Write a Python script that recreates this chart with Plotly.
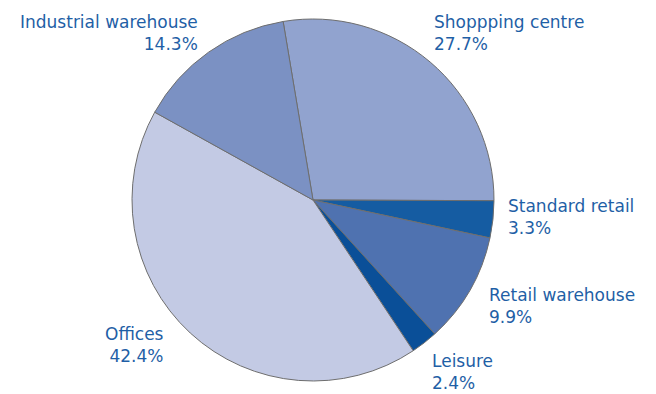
import plotly.graph_objects as go

labels = ["Shoppping centre", "Standard retail", "Retail warehouse", "Leisure", "Offices", "Industrial warehouse"]
values = [27.7, 3.3, 9.9, 2.4, 42.4, 14.3]
colors = ["#91a3cf", "#155ca2", "#4f72b0", "#0a4f98", "#c3cae4", "#7b91c3"]

W, H = 656, 394
cx, cy, R = 313, 200, 181

# label anchor positions (pixels) and alignment
label_pos = [
    (433, 33, "left"),
    (507, 217, "left"),
    (488, 306, "left"),
    (431, 372, "left"),
    (165, 345, "right"),
    (199, 33, "right"),
]
text_color = "#1f5fa6"

fig = go.Figure(go.Pie(
    labels=labels,
    values=values,
    sort=False,
    direction="clockwise",
    rotation=-9.5,
    marker=dict(colors=colors, line=dict(color="#6e6e6e", width=1)),
    textinfo="none",
    hoverinfo="label+percent",
    showlegend=False,
    domain=dict(x=[(cx - R) / W, (cx + R) / W], y=[1 - (cy + R) / H, 1 - (cy - R) / H]),
))

for lab, val, (px, py, side) in zip(labels, values, label_pos):
    fig.add_annotation(
        x=px / W, y=1 - py / H, xref="paper", yref="paper",
        text=f"{lab}<br>{val:.1f}%",
        showarrow=False,
        xanchor=side, yanchor="middle", align=side,
        borderpad=0,
        font=dict(family="DejaVu Sans", size=17, color=text_color),
    )

fig.update_layout(
    width=W, height=H,
    margin=dict(l=0, r=0, t=0, b=0),
    paper_bgcolor="white",
    plot_bgcolor="white",
)

fig.write_html("out.html")
